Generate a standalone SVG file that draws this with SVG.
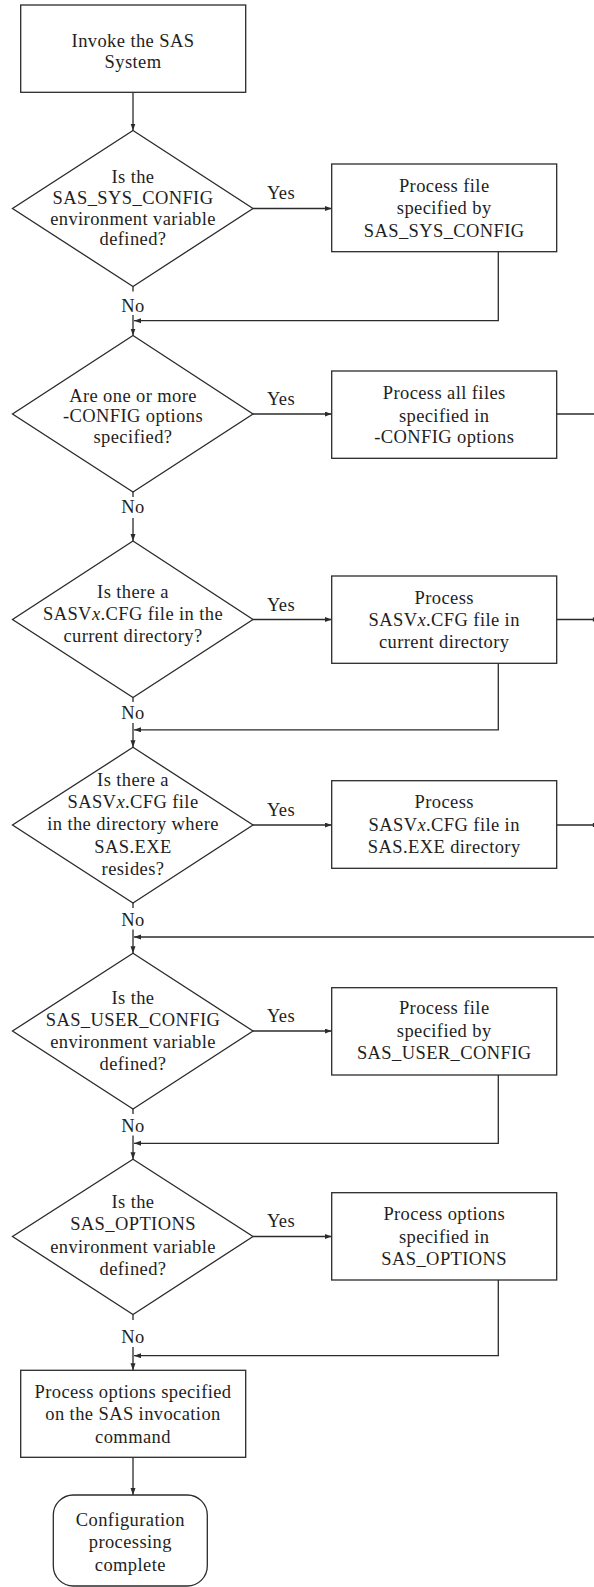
<svg xmlns="http://www.w3.org/2000/svg" width="594" height="1587" viewBox="0 0 594 1587">
<style>
.shape{fill:#fff;stroke:#2b2b2b;stroke-width:1.3}
.t{font-family:"Liberation Serif","Times New Roman",serif;font-size:18.5px;letter-spacing:0.4px;fill:#1e1e1e;text-anchor:middle}
.c{fill:none;stroke:#2b2b2b;stroke-width:1.3}
</style>
<defs>
<marker id="ah" markerUnits="userSpaceOnUse" markerWidth="8" markerHeight="6" refX="7" refY="2.5" orient="auto">
<path d="M0,0 L7,2.5 L0,5 z" fill="#2b2b2b"/>
</marker>
</defs>

<g id="connectors">
<path class="c" d="M133,92.3 V130.5" marker-end="url(#ah)"/>
<path class="c" d="M253,208.5 H331.7" marker-end="url(#ah)"/>
<path class="c" d="M133,286.5 V291.5"/>
<path class="c" d="M133,315 V335.5" marker-end="url(#ah)"/>
<path class="c" d="M498.3,251.7 V320.7 H134" marker-end="url(#ah)"/>
<path class="c" d="M253,414 H331.7" marker-end="url(#ah)"/>
<path class="c" d="M556.7,414 H594"/>
<path class="c" d="M133,492 V497"/>
<path class="c" d="M133,518 V541" marker-end="url(#ah)"/>
<path class="c" d="M253,619.5 H331.7" marker-end="url(#ah)"/>
<path class="c" d="M556.7,619.5 H593.5 M593.5,617.5 V621.5"/>
<path class="c" d="M498.3,663.3 V729.8 H134" marker-end="url(#ah)"/>
<path class="c" d="M133,697.5 V702"/>
<path class="c" d="M133,723 V747.3" marker-end="url(#ah)"/>
<path class="c" d="M253,825 H331.7" marker-end="url(#ah)"/>
<path class="c" d="M556.7,825 H593.5 M593.5,823 V827"/>
<path class="c" d="M594,937 H134" marker-end="url(#ah)"/>
<path class="c" d="M133,903 V908"/>
<path class="c" d="M133,929.5 V953.3" marker-end="url(#ah)"/>
<path class="c" d="M253,1031 H331.7" marker-end="url(#ah)"/>
<path class="c" d="M498.3,1075 V1143.3 H134" marker-end="url(#ah)"/>
<path class="c" d="M133,1109 V1114"/>
<path class="c" d="M133,1135.5 V1159.3" marker-end="url(#ah)"/>
<path class="c" d="M253,1236.5 H331.7" marker-end="url(#ah)"/>
<path class="c" d="M498.3,1280 V1355.7 H134" marker-end="url(#ah)"/>
<path class="c" d="M133,1314.5 V1320"/>
<path class="c" d="M133,1347 V1370.3" marker-end="url(#ah)"/>
<path class="c" d="M133,1457.3 V1495" marker-end="url(#ah)"/>
</g>

<g id="labels">
<text class="t" x="281" y="199">Yes</text>
<text class="t" x="281" y="405">Yes</text>
<text class="t" x="281" y="610.5">Yes</text>
<text class="t" x="281" y="816">Yes</text>
<text class="t" x="281" y="1021.7">Yes</text>
<text class="t" x="281" y="1227.3">Yes</text>
<text class="t" x="133" y="312">No</text>
<text class="t" x="133" y="513.3">No</text>
<text class="t" x="133" y="719">No</text>
<text class="t" x="133" y="925.7">No</text>
<text class="t" x="133" y="1131.7">No</text>
<text class="t" x="133" y="1343.3">No</text>
</g>

<g id="start">
<rect class="shape" x="20.7" y="5" width="225" height="87.3"/>
<text class="t" x="133" y="46.7">Invoke the SAS</text>
<text class="t" x="133" y="67.5">System</text>
</g>

<g id="d1">
<polygon class="shape" points="133,130.5 253,208.5 133,286.5 12.5,208.5"/>
<text class="t" x="133" y="182.5">Is the</text>
<text class="t" x="133" y="204">SAS_SYS_CONFIG</text>
<text class="t" x="133" y="224.5">environment variable</text>
<text class="t" x="133" y="245">defined?</text>
</g>

<g id="b2">
<rect class="shape" x="331.7" y="164" width="225" height="87.7"/>
<text class="t" x="444.2" y="191.7">Process file</text>
<text class="t" x="444.2" y="214.3">specified by</text>
<text class="t" x="444.2" y="237.3">SAS_SYS_CONFIG</text>
</g>

<g id="d2">
<polygon class="shape" points="133,335.5 253,414 133,492 12.5,414"/>
<text class="t" x="133" y="401.7">Are one or more</text>
<text class="t" x="133" y="421.7">-CONFIG options</text>
<text class="t" x="133" y="443">specified?</text>
</g>

<g id="b3">
<rect class="shape" x="331.7" y="371" width="225" height="87.3"/>
<text class="t" x="444.2" y="399.3">Process all files</text>
<text class="t" x="444.2" y="421.5">specified in</text>
<text class="t" x="444.2" y="443.3">-CONFIG options</text>
</g>

<g id="d3">
<polygon class="shape" points="133,541 253,619.5 133,697.5 12.5,619.5"/>
<text class="t" x="133" y="598.3">Is there a</text>
<text class="t" x="133" y="620">SASV<tspan font-style="italic">x</tspan>.CFG file in the</text>
<text class="t" x="133" y="641.7">current directory?</text>
</g>

<g id="b4">
<rect class="shape" x="331.7" y="576" width="225" height="87.3"/>
<text class="t" x="444.2" y="604">Process</text>
<text class="t" x="444.2" y="626">SASV<tspan font-style="italic">x</tspan>.CFG file in</text>
<text class="t" x="444.2" y="648.3">current directory</text>
</g>

<g id="d4">
<polygon class="shape" points="133,747.3 253,825 133,903 12.5,825"/>
<text class="t" x="133" y="786">Is there a</text>
<text class="t" x="133" y="808.3">SASV<tspan font-style="italic">x</tspan>.CFG file</text>
<text class="t" x="133" y="830">in the directory where</text>
<text class="t" x="133" y="852.7">SAS.EXE</text>
<text class="t" x="133" y="875">resides?</text>
</g>

<g id="b5">
<rect class="shape" x="331.7" y="780.7" width="225" height="87.6"/>
<text class="t" x="444.2" y="808.3">Process</text>
<text class="t" x="444.2" y="830.7">SASV<tspan font-style="italic">x</tspan>.CFG file in</text>
<text class="t" x="444.2" y="853.3">SAS.EXE directory</text>
</g>

<g id="d5">
<polygon class="shape" points="133,953.3 253,1031 133,1109 12.5,1031"/>
<text class="t" x="133" y="1004">Is the</text>
<text class="t" x="133" y="1026">SAS_USER_CONFIG</text>
<text class="t" x="133" y="1048.3">environment variable</text>
<text class="t" x="133" y="1070">defined?</text>
</g>

<g id="b6">
<rect class="shape" x="331.7" y="987.7" width="225" height="87.3"/>
<text class="t" x="444.2" y="1014.3">Process file</text>
<text class="t" x="444.2" y="1036.7">specified by</text>
<text class="t" x="444.2" y="1059.3">SAS_USER_CONFIG</text>
</g>

<g id="d6">
<polygon class="shape" points="133,1159.3 253,1236.5 133,1314.5 12.5,1236.5"/>
<text class="t" x="133" y="1208.3">Is the</text>
<text class="t" x="133" y="1230">SAS_OPTIONS</text>
<text class="t" x="133" y="1253.3">environment variable</text>
<text class="t" x="133" y="1275">defined?</text>
</g>

<g id="b7">
<rect class="shape" x="331.7" y="1192.7" width="225" height="87.3"/>
<text class="t" x="444.2" y="1220">Process options</text>
<text class="t" x="444.2" y="1242.7">specified in</text>
<text class="t" x="444.2" y="1265">SAS_OPTIONS</text>
</g>

<g id="b8">
<rect class="shape" x="20.7" y="1370.3" width="225" height="87"/>
<text class="t" x="133" y="1398.3">Process options specified</text>
<text class="t" x="133" y="1420">on the SAS invocation</text>
<text class="t" x="133" y="1442.7">command</text>
</g>

<g id="end">
<rect class="shape" x="53.3" y="1495" width="154" height="91" rx="20" ry="20"/>
<text class="t" x="130.3" y="1526">Configuration</text>
<text class="t" x="130.3" y="1548.3">processing</text>
<text class="t" x="130.3" y="1570.7">complete</text>
</g>
</svg>
